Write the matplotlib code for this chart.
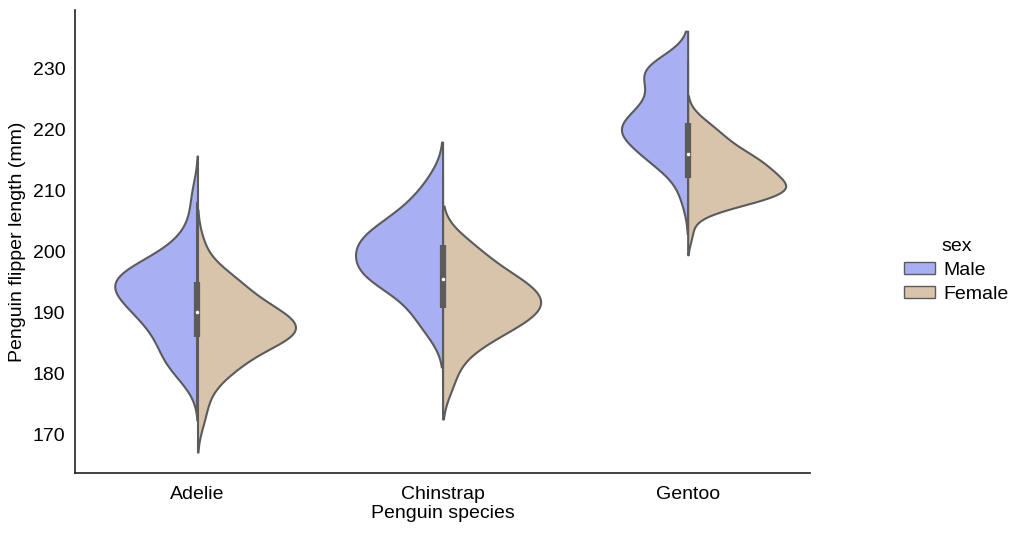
import numpy as np
import matplotlib.pyplot as plt
from matplotlib.patches import Patch

plt.rcParams['font.family'] = ['Liberation Sans', 'DejaVu Sans']

species = ["Adelie", "Chinstrap", "Gentoo"]
sexes = ["Male", "Female"]
colors = {"Male": "#a8b0f3", "Female": "#d8c4aa"}
line_gray = "#5b5b5b"

# flipper lengths (mm) -> count, estimated from the violin shapes
adelie_male = {178: 1, 180: 2, 181: 2, 182: 2, 183: 2, 184: 2, 185: 2, 186: 2, 187: 3,
               188: 2, 189: 3, 190: 4, 191: 4, 192: 4, 193: 4, 194: 4, 195: 7, 196: 6,
               197: 4, 198: 3, 199: 2, 200: 2, 201: 1, 202: 1, 203: 1, 205: 1, 208: 1, 210: 1}
adelie_female = {172: 1, 174: 1, 176: 1, 178: 2, 180: 2, 181: 3, 182: 3, 183: 2, 184: 3,
                 185: 3, 186: 9, 187: 6, 188: 5, 189: 5, 190: 6, 191: 4, 192: 3, 193: 2,
                 194: 2, 195: 5, 196: 1, 197: 1, 198: 1, 199: 1, 202: 1}
chinstrap_male = {187: 1, 188: 1, 190: 1, 191: 1, 193: 2, 195: 2, 196: 3, 197: 3, 198: 2,
                  199: 1, 200: 1, 201: 4, 202: 2, 203: 3, 205: 2, 206: 1, 207: 1, 208: 1,
                  210: 1, 212: 1}
chinstrap_female = {178: 1, 181: 1, 184: 1, 185: 2, 187: 2, 188: 2, 189: 2, 190: 3, 191: 2,
                    192: 3, 193: 3, 194: 1, 195: 3, 196: 2, 197: 1, 198: 1, 199: 1, 200: 1,
                    201: 1, 202: 1}
gentoo_male = {208: 1, 210: 1, 212: 1, 213: 1, 214: 1, 215: 4, 216: 4, 217: 1, 218: 3,
               219: 5, 220: 6, 221: 5, 222: 3, 223: 2, 224: 3, 225: 3, 226: 2, 228: 3,
               229: 3, 230: 6, 231: 3}
gentoo_female = {203: 1, 207: 2, 208: 4, 209: 5, 210: 8, 211: 5, 212: 5, 213: 5, 214: 4,
                 215: 5, 216: 3, 217: 3, 218: 2, 219: 2, 220: 2, 221: 1, 222: 1}

data = {
    "Adelie": {"Male": adelie_male, "Female": adelie_female},
    "Chinstrap": {"Male": chinstrap_male, "Female": chinstrap_female},
    "Gentoo": {"Male": gentoo_male, "Female": gentoo_female},
}


def expand(counts):
    return np.repeat(np.array(list(counts.keys()), float), list(counts.values()))


def kde(vals, cut=2, gridsize=100):
    # gaussian kde, scott bandwidth (like seaborn)
    bw = vals.std(ddof=1) * len(vals) ** (-1 / 5)
    y = np.linspace(vals.min() - cut * bw, vals.max() + cut * bw, gridsize)
    d = np.exp(-0.5 * ((y[:, None] - vals[None, :]) / bw) ** 2).sum(1)
    d /= len(vals) * bw * np.sqrt(2 * np.pi)
    return y, d


fig = plt.figure(figsize=(10.24, 5.34), dpi=100)
ax = fig.add_axes([0.0732, 0.114, 0.718, 0.867])

for i, sp in enumerate(species):
    curves = {s: kde(expand(data[sp][s])) for s in sexes}
    peak = max(d.max() for _, d in curves.values())
    for s in sexes:
        y, d = curves[s]
        w = d / peak * 0.4
        if s == "Male":
            ax.fill_betweenx(y, i - w, i, facecolor=colors[s], edgecolor=line_gray, lw=1.5)
        else:
            ax.fill_betweenx(y, i, i + w, facecolor=colors[s], edgecolor=line_gray, lw=1.5)

    # inner box on both sexes together
    allv = np.concatenate([expand(data[sp][s]) for s in sexes])
    q25, q50, q75 = np.percentile(allv, [25, 50, 75])
    lim = 1.5 * (q75 - q25)
    h1 = allv[allv >= q25 - lim].min()
    h2 = allv[allv <= q75 + lim].max()
    ax.plot([i, i], [h1, h2], color=line_gray, lw=1.5)
    ax.plot([i, i], [q25, q75], color=line_gray, lw=4.5, solid_capstyle='butt')
    ax.scatter(i, q50, s=9, color="white", edgecolor=line_gray, zorder=3, lw=0.5)

ax.set_xlim(-0.5, 2.5)
ax.set_xticks(range(len(species)))
ax.set_xticklabels(species)
ax.set_yticks([170, 180, 190, 200, 210, 220, 230])
ax.tick_params(length=0, labelsize=14, pad=7)
ax.tick_params(axis='x', pad=9)
ax.set_xlabel("Penguin species", fontsize=14, labelpad=2)
ax.set_ylabel("Penguin flipper length (mm)", fontsize=14, labelpad=5)
for side in ["top", "right"]:
    ax.spines[side].set_visible(False)
for side in ["left", "bottom"]:
    ax.spines[side].set_linewidth(1.2)
    ax.spines[side].set_color("#222222")

handles = [Patch(facecolor=colors[s], edgecolor=line_gray, lw=1) for s in sexes]
fig.legend(handles, sexes, title="sex", loc="center left", bbox_to_anchor=(0.866, 0.494),
           frameon=False, fontsize=14, title_fontsize=14, handlelength=1.6,
           handleheight=0.6, handletextpad=0.4, labelspacing=0.35)

fig.savefig("out.png", dpi=100)
